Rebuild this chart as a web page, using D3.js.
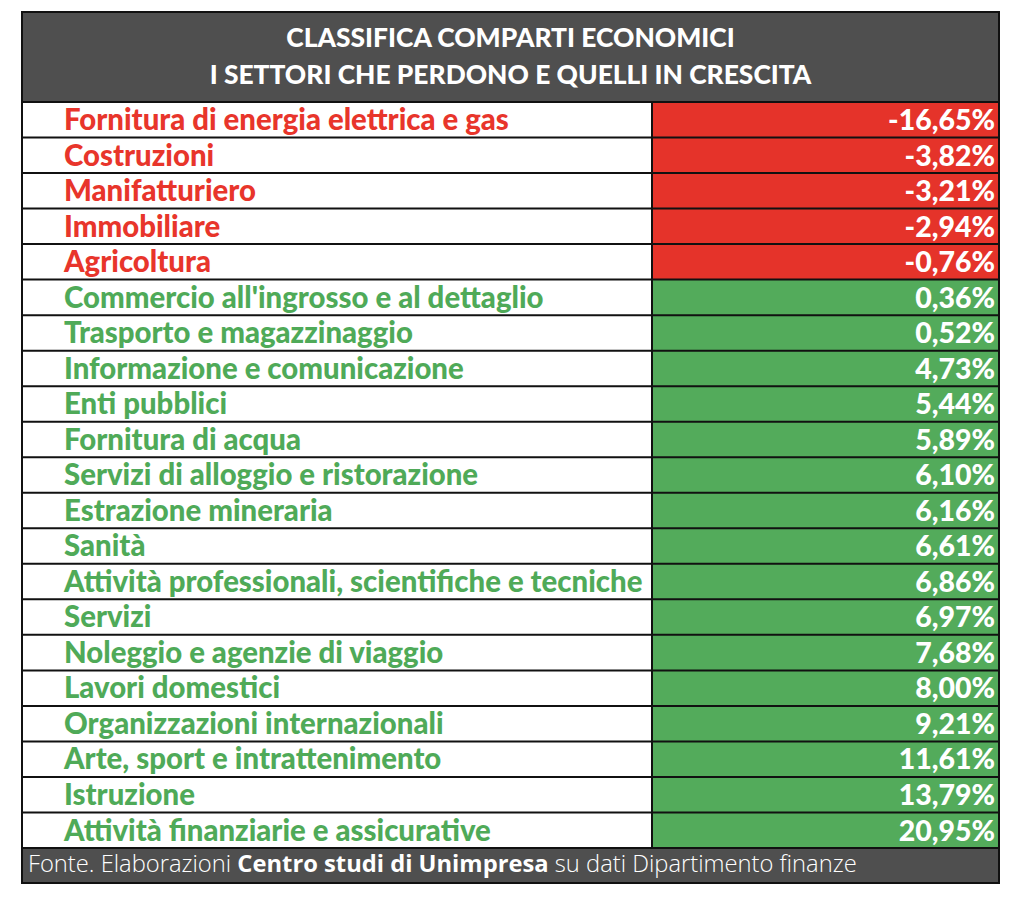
<!DOCTYPE html>
<html>
<head>
<meta charset="utf-8">
<script src="https://cdn.jsdelivr.net/npm/d3@7"></script>
<style>
  html, body { margin: 0; padding: 0; background: #ffffff; }
  svg { display: block; }
</style>
</head>
<body>
<svg id="chart" width="1024" height="904"></svg>
<script>
// ---- data ----
const titleLines = ["CLASSIFICA COMPARTI ECONOMICI", "I SETTORI CHE PERDONO E QUELLI IN CRESCITA"];
const categories = [
  "Fornitura di energia elettrica e gas",
  "Costruzioni",
  "Manifatturiero",
  "Immobiliare",
  "Agricoltura",
  "Commercio all'ingrosso e al dettaglio",
  "Trasporto e magazzinaggio",
  "Informazione e comunicazione",
  "Enti pubblici",
  "Fornitura di acqua",
  "Servizi di alloggio e ristorazione",
  "Estrazione mineraria",
  "Sanità",
  "Attività professionali, scientifiche e tecniche",
  "Servizi",
  "Noleggio e agenzie di viaggio",
  "Lavori domestici",
  "Organizzazioni internazionali",
  "Arte, sport e intrattenimento",
  "Istruzione",
  "Attività finanziarie e assicurative"
];
const values = [-16.65, -3.82, -3.21, -2.94, -0.76, 0.36, 0.52, 4.73, 5.44, 5.89, 6.10, 6.16, 6.61, 6.86, 6.97, 7.68, 8.00, 9.21, 11.61, 13.79, 20.95];
const footerParts = [
  { text: "Fonte. Elaborazioni ", bold: false },
  { text: "Centro studi di Unimpresa", bold: true },
  { text: " su dati Dipartimento finanze", bold: false }
];

(function () {
// ---- layout ----
const L = 22, R = 999, T = 12, headerBottom = 102, tableBottom = 848, footerBottom = 883;
const divX = 652;
const RED = "#e5332a", GREEN = "#53ab5b";
const RED_TXT = "#e8352b", GREEN_TXT = "#4faa58";
const HEADER = "#4f4f4f";

const svg = d3.select("#chart");
const rows = categories.map((c, i) => ({ cat: c, val: values[i] }));

const y = d3.scaleBand().domain(categories).range([headerBottom, tableBottom]).padding(0);
const locale = d3.formatLocale({ decimal: ",", thousands: ".", grouping: [3], currency: ["", "€"], minus: "-" });
const fmt = v => locale.format(".2f")(v) + "%";

function fit(sel, target) {
  const w = sel.node().getComputedTextLength();
  const fs = parseFloat(sel.attr("font-size"));
  return fs * target / w;
}

// header
svg.append("rect").attr("x", L).attr("y", T).attr("width", R - L).attr("height", headerBottom - T).attr("fill", HEADER);

const titleFont = "Lato, 'Open Sans', sans-serif";
const t2 = svg.append("text").attr("font-family", titleFont).attr("font-weight", 900).attr("font-size", 24).text(titleLines[1]);
const titleFs = fit(t2, 602);
t2.remove();
svg.selectAll("text.title").data(titleLines).join("text")
  .attr("class", "title")
  .attr("x", (L + R) / 2)
  .attr("y", (d, i) => [47, 84][i])
  .attr("text-anchor", "middle")
  .attr("font-family", titleFont).attr("font-weight", 900)
  .attr("font-size", titleFs)
  .attr("fill", "#ffffff")
  .text(d => d);

// rows
const g = svg.append("g");
g.selectAll("rect.lab").data(rows).join("rect")
  .attr("class", "lab")
  .attr("x", L).attr("y", d => y(d.cat))
  .attr("width", divX - L).attr("height", y.bandwidth())
  .attr("fill", "#ffffff");
g.selectAll("rect.val").data(rows).join("rect")
  .attr("class", "val")
  .attr("x", divX).attr("y", d => y(d.cat))
  .attr("width", R - divX).attr("height", y.bandwidth())
  .attr("fill", d => d.val < 0 ? RED : GREEN);

const labFont = "Lato, 'Open Sans', sans-serif";
const tl = svg.append("text").attr("font-family", labFont).attr("font-weight", 900).attr("font-size", 24).text(categories[0]);
const labFs = fit(tl, 445);
tl.remove();
g.selectAll("text.lab").data(rows).join("text")
  .attr("class", "lab")
  .attr("x", 64)
  .attr("y", d => y(d.cat) + y.bandwidth() * 0.79)
  .attr("font-family", labFont).attr("font-weight", 900)
  .attr("font-size", labFs)
  .attr("fill", d => d.val < 0 ? RED_TXT : GREEN_TXT)
  .text(d => d.cat);

const tv = svg.append("text").attr("font-family", labFont).attr("font-weight", 900).attr("font-size", 24).text(fmt(values[0]));
const valFs = fit(tv, 107);
tv.remove();
g.selectAll("text.val").data(rows).join("text")
  .attr("class", "val")
  .attr("x", 995)
  .attr("y", d => y(d.cat) + y.bandwidth() * 0.79)
  .attr("text-anchor", "end")
  .attr("font-family", labFont).attr("font-weight", 900)
  .attr("font-size", valFs)
  .attr("fill", "#ffffff")
  .text(d => fmt(d.val));

// grid lines
g.selectAll("line.row").data(rows.slice(1)).join("line")
  .attr("class", "row")
  .attr("x1", L).attr("x2", R)
  .attr("y1", d => y(d.cat)).attr("y2", d => y(d.cat))
  .attr("stroke", "#111").attr("stroke-width", 2);
svg.append("line").attr("x1", L).attr("x2", R).attr("y1", headerBottom).attr("y2", headerBottom).attr("stroke", "#111").attr("stroke-width", 2);
svg.append("line").attr("x1", divX).attr("x2", divX).attr("y1", headerBottom).attr("y2", tableBottom).attr("stroke", "#111").attr("stroke-width", 2);

// footer
svg.append("rect").attr("x", L).attr("y", tableBottom).attr("width", R - L).attr("height", footerBottom - tableBottom).attr("fill", HEADER);
svg.append("line").attr("x1", L).attr("x2", R).attr("y1", tableBottom).attr("y2", tableBottom).attr("stroke", "#111").attr("stroke-width", 2);
const footFont = "'Open Sans', Lato, sans-serif";
const ft = svg.append("text")
  .attr("x", 28).attr("y", 872)
  .attr("font-family", footFont).attr("font-size", 20)
  .attr("fill", "#ffffff");
ft.selectAll("tspan").data(footerParts).join("tspan")
  .attr("font-weight", d => d.bold ? 700 : 300)
  .text(d => d.text);
const footFs = fit(ft, 829);
ft.attr("font-size", footFs);

// outer border
svg.append("rect").attr("x", L).attr("y", T).attr("width", R - L).attr("height", footerBottom - T)
  .attr("fill", "none").attr("stroke", "#111").attr("stroke-width", 2);
})();
</script>
</body>
</html>
